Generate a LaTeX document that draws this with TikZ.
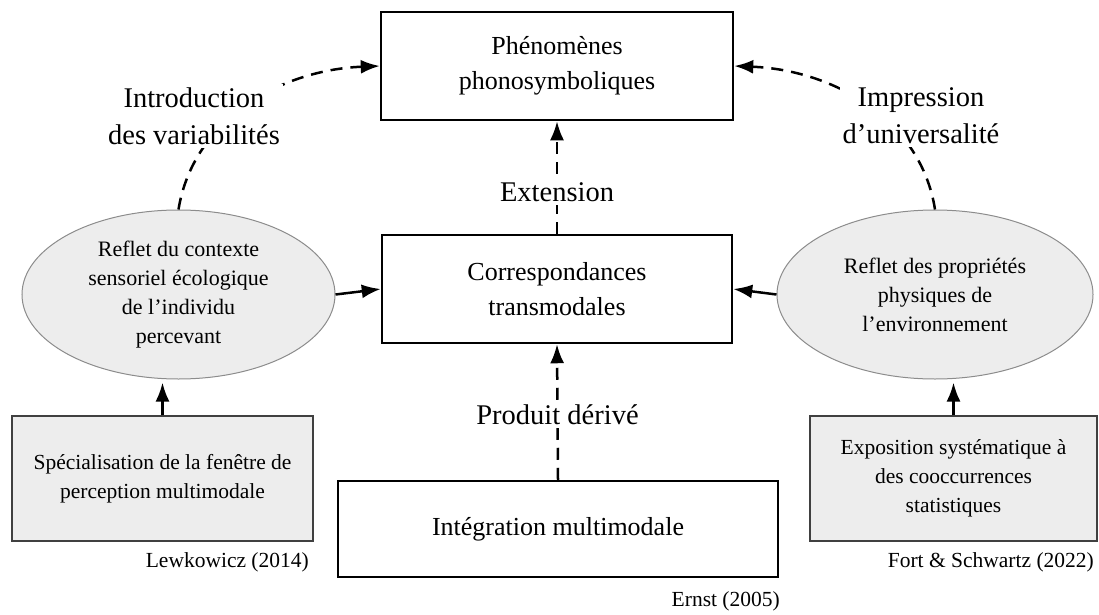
\documentclass[tikz,border=0pt]{standalone}
\usepackage{fontspec}
\setmainfont{Liberation Serif}
\usetikzlibrary{arrows.meta,shapes.geometric}
\begin{document}
\begin{tikzpicture}[x=1pt,y=-1pt,
  mainbox/.style={draw=black, line width=2.5pt, rectangle, align=center, inner sep=0pt, font=\fontsize{26}{35}\selectfont},
  ell/.style={ellipse, draw=black!45, line width=1pt, fill=black!7, align=center, inner sep=0pt, font=\fontsize{22}{29}\selectfont, minimum width=313pt, minimum height=169pt},
  greybox/.style={rectangle, draw=black!75, line width=1.5pt, fill=black!7, align=center, inner sep=0pt, font=\fontsize{21.5}{29}\selectfont, minimum height=125pt},
  cite/.style={anchor=east, inner sep=0pt, font=\fontsize{21.5}{26}\selectfont},
  lbl/.style={fill=white, align=center, inner sep=3pt, font=\fontsize{28.5}{37}\selectfont},
  arr/.style={-{Latex[length=19pt,width=14pt]}, line width=2.5pt},
  darr/.style={arr, dash pattern=on 12pt off 8pt},
]
\path[use as bounding box] (0,0) rectangle (1099,615);
\node[mainbox, minimum width=352pt, minimum height=108pt] (top) at (557,66) {Phénomènes\\phonosymboliques};
\node[mainbox, minimum width=350pt, minimum height=108pt] (mid) at (557,289) {Correspondances\\transmodales};
\node[mainbox, minimum width=440pt, minimum height=96pt] (bot) at (558,529) {Intégration multimodale};
\node[ell] (le) at (178.5,294.5) {Reflet du contexte\\sensoriel écologique\\de l’individu\\percevant};
\node[ell, minimum width=316pt] (re) at (935,294.5) {Reflet des propriétés\\physiques de\\l’environnement};
\node[greybox, minimum width=301pt] (lg) at (162.5,478.5) {Spécialisation de la fenêtre de\\perception multimodale};
\node[greybox, minimum width=287pt] (rg) at (953.5,478.5) {Exposition systématique à\\des cooccurrences\\statistiques};
\node[cite] (c1) at (309,562) {Lewkowicz (2014)};
\node[cite] (c2) at (1094,562) {Fort \& Schwartz (2022)};
\node[cite] (c3) at (780,601) {Ernst (2005)};
\draw[arr, shorten >=3pt] (lg.north) -- (lg.north |- le.south);
\draw[arr, shorten >=3pt] (rg.north) -- (rg.north |- re.south);
\draw[arr] (le.east) -- (mid.west);
\draw[arr] (re.west) -- (mid.east);
\draw[darr] (mid.north) -- node[lbl, pos=0.37] (ext) {Extension} (top.south);
\draw[darr] (bot.north) -- node[lbl, pos=0.478] (prod) {Produit dérivé} (mid.south);
\draw[darr] (le.north) .. controls (193,120) and (280,70) .. (top.west);
\draw[darr] (re.north) .. controls (921,120) and (834,70) .. (top.east);
\node[lbl] (intro) at (194,116) {Introduction\\des variabilités};
\node[lbl] (impr) at (921,116) {Impression\\d’universalité};
\end{tikzpicture}
\end{document}
